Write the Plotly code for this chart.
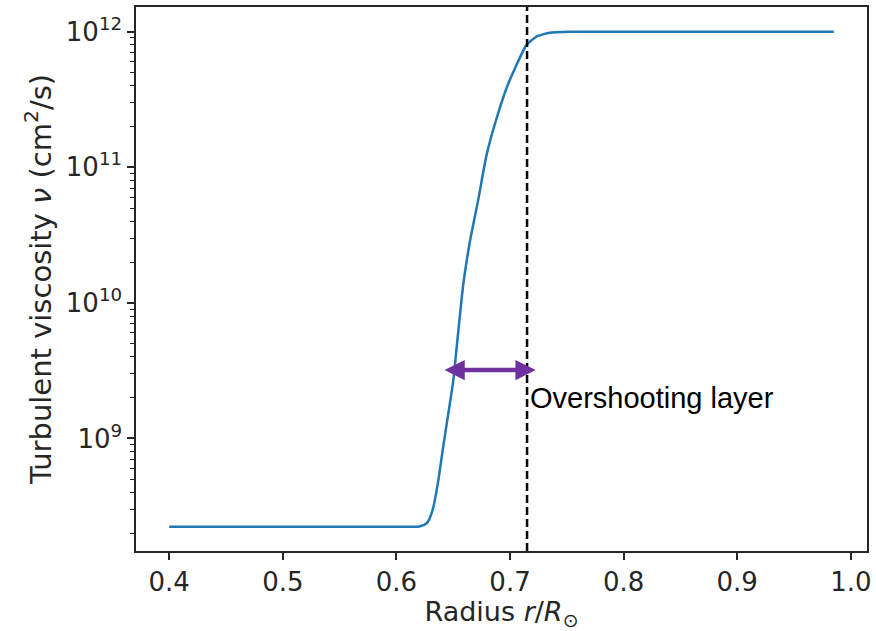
import plotly.graph_objects as go

# Curve data (radius r/R_sun, turbulent viscosity cm^2/s)
radius = [0.400, 0.600, 0.6180, 0.6222, 0.6250, 0.6280, 0.6324, 0.6368, 0.6412,
          0.6456, 0.6500, 0.6530, 0.6588, 0.6647, 0.6720, 0.6794, 0.6882,
          0.6969, 0.7057, 0.7145, 0.7233, 0.7350, 0.7525, 0.8500, 0.985]
viscosity = [2.23e8, 2.23e8, 2.23e8, 2.27e8, 2.32e8, 2.45e8, 3.09e8, 4.86e8, 8.71e8,
             1.51e9, 2.65e9, 4.67e9, 1.36e10, 2.84e10, 5.75e10, 1.24e11, 2.30e11,
             3.83e11, 5.69e11, 8.00e11, 9.20e11, 9.84e11, 1.0e12, 1.0e12, 1.0e12]

x_ticks = [0.4, 0.5, 0.6, 0.7, 0.8, 0.9, 1.0]
x_ticktext = ["0.4", "0.5", "0.6", "0.7", "0.8", "0.9", "1.0"]
y_ticks = [1e9, 1e10, 1e11, 1e12]
y_ticktext = ["10<sup>9</sup>", "10<sup>10</sup>", "10<sup>11</sup>", "10<sup>12</sup>"]

tachocline_r = 0.715
arrow_left_r = 0.6410
arrow_right_r = 0.7226
arrow_log_nu = 9.504
label_r = 0.7160
label_log_nu = 9.30
label_text = "Overshooting layer"

minor_vals = [k * 10 ** n for n in range(8, 12) for k in range(2, 10)]

fig = go.Figure()
fig.add_trace(go.Scatter(x=radius, y=viscosity, mode="lines",
                         line=dict(color="#1f77b4", width=2.5, shape="spline", smoothing=0.5),
                         showlegend=False, hoverinfo="skip"))
fig.add_trace(go.Scatter(x=[tachocline_r, tachocline_r], y=[10 ** 8.1696, 10 ** 12.1824],
                         mode="lines", line=dict(color="black", width=2.5, dash="8px,4px"),
                         showlegend=False, hoverinfo="skip"))

fig.add_annotation(x=arrow_right_r, y=arrow_log_nu, ax=arrow_left_r, ay=arrow_log_nu,
                   xref="x", yref="y", axref="x", ayref="y", text="",
                   showarrow=True, arrowhead=2, startarrowhead=2, arrowside="end+start",
                   arrowsize=0.9, startarrowsize=0.9, arrowwidth=4.5, arrowcolor="#7030A0",
                   standoff=0, startstandoff=0)
fig.add_annotation(x=label_r, y=label_log_nu, xref="x", yref="y", text=label_text,
                   showarrow=False, xanchor="left", yanchor="middle",
                   font=dict(family="Liberation Sans, Arial", size=29, color="black"))

axis_common = dict(showline=True, linecolor="#262626", linewidth=1.5, mirror=True,
                   ticks="outside", ticklen=7, tickwidth=1.5, tickcolor="#262626",
                   showgrid=False, zeroline=False,
                   tickfont=dict(family="DejaVu Sans", size=26, color="#262626"))

fig.update_xaxes(range=[0.37075, 1.01425], tickvals=x_ticks, ticktext=x_ticktext,
                 title=dict(text="Radius <i>r</i>/<i>R</i><sub>⊙</sub>",
                            font=dict(family="DejaVu Sans", size=27, color="#262626"),
                            standoff=4),
                 **axis_common)
fig.update_yaxes(type="log", range=[8.1696, 12.1824], tickvals=y_ticks, ticktext=y_ticktext,
                 minor=dict(tickvals=minor_vals, ticks="outside", ticklen=4, tickwidth=1.2,
                            tickcolor="#262626", showgrid=False),
                 title=dict(text="Turbulent viscosity <i>ν</i> (cm<sup>2</sup>/s)",
                            font=dict(family="DejaVu Sans", size=29, color="#262626"),
                            standoff=6),
                 **axis_common)

fig.update_layout(width=876, height=631, margin=dict(l=135.5, r=8, t=5, b=80),
                  plot_bgcolor="white", paper_bgcolor="white")

fig.write_html("out.html")
